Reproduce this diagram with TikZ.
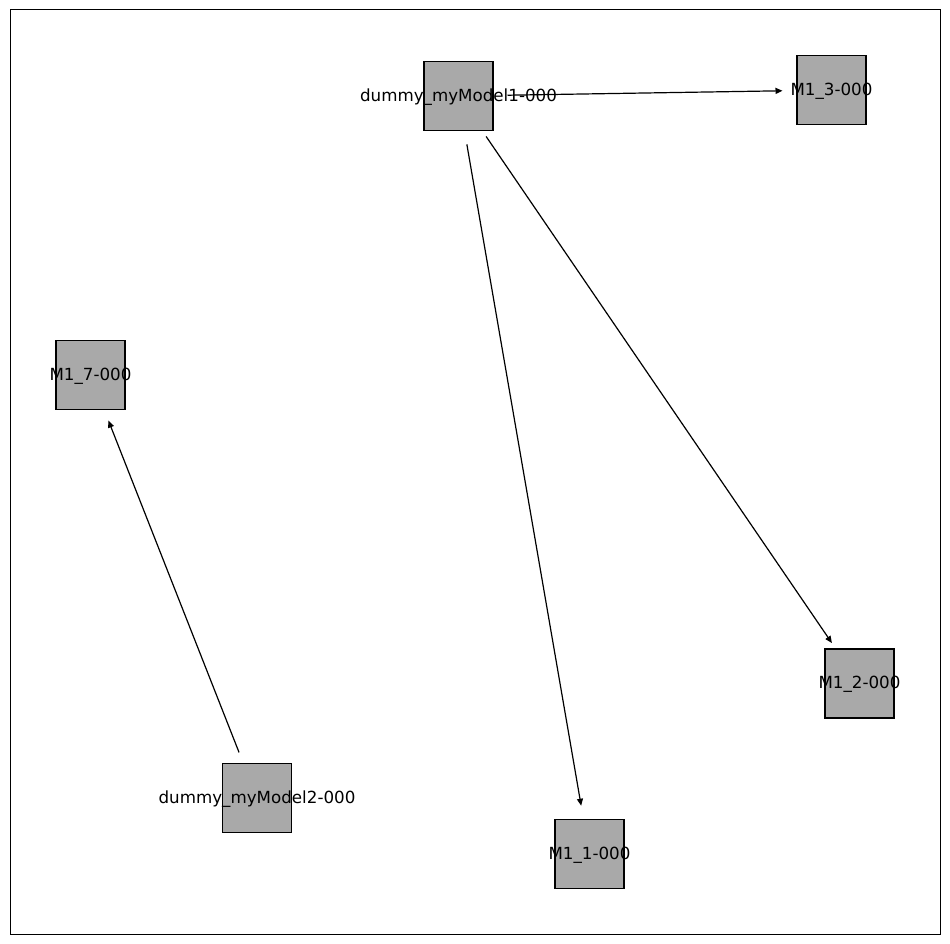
\documentclass[tikz,border=0pt]{standalone}
\usepackage{fontspec}
\setmainfont{DejaVu Sans}
\usetikzlibrary{arrows.meta}
\definecolor{nodegray}{HTML}{A9A9A9}

\begin{document}
\begin{tikzpicture}[x=1pt,y=-1pt,
  model/.style={draw,line width=1.1pt,fill=nodegray,minimum size=69pt,inner sep=0pt,
    label={[font=\fontsize{16.7}{20}\selectfont,inner sep=0pt,yshift=-1pt]center:#1}},
  link/.style={-{Triangle[length=7pt,width=6pt]},line width=1.2pt,
    shorten <=49pt,shorten >=49pt},
]
  \useasboundingbox (0,0) rectangle (950,944);
  \draw[line width=1pt] (10,10) rectangle (940,934);
  % model nodes
  \node[model={dummy\_myModel1-000}] (dm1) at (458.5,96) {};
  \node[model={M1\_3-000}] (m13) at (831.5,90) {};
  \node[model={M1\_7-000}] (m17) at (90.5,375) {};
  \node[model={M1\_2-000}] (m12) at (859.5,683.5) {};
  \node[model={M1\_1-000}] (m11) at (589.5,854) {};
  \node[model={dummy\_myModel2-000}] (dm2) at (257,798) {};
  % links
  \draw[link] (dm1.center) -- (m13.center);
  \draw[link] (dm1.center) -- (m12.center);
  \draw[link] (dm1.center) -- (m11.center);
  \draw[link] (dm2.center) -- (m17.center);
\end{tikzpicture}
\end{document}
